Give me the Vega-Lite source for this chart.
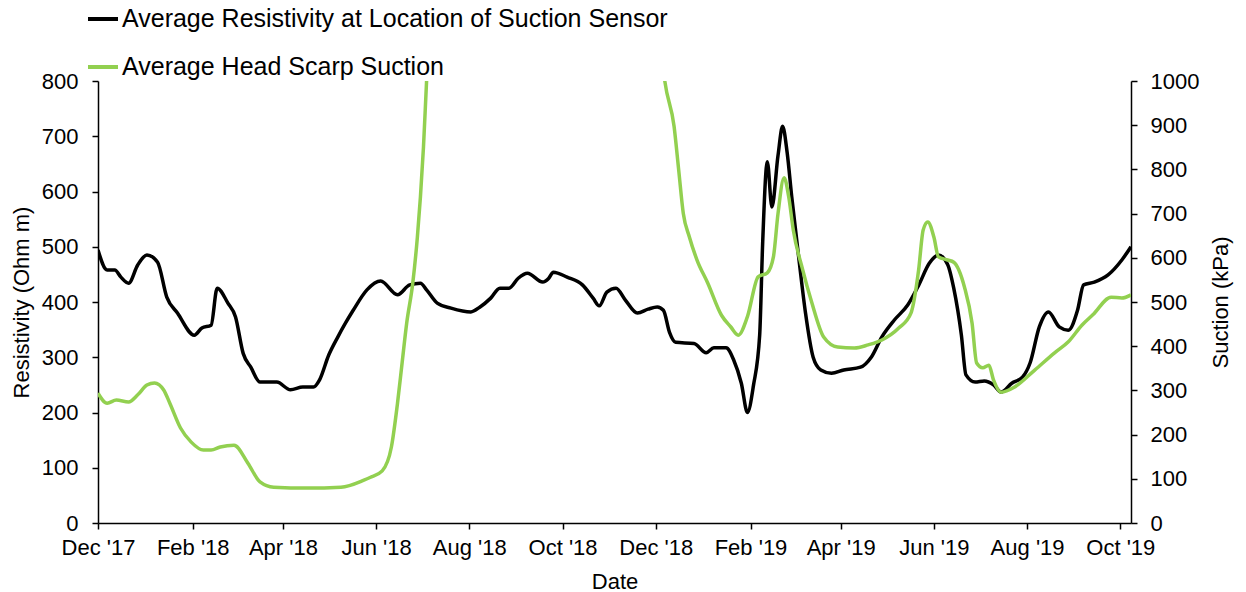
{
  "$schema": "https://vega.github.io/schema/vega-lite/v6.json",
  "width": 1033,
  "height": 442,
  "autosize": {"type": "none"},
  "padding": {"left": 98, "top": 81, "right": 115, "bottom": 69},
  "background": "white",
  "config": {
    "view": {"stroke": null},
    "font": "Liberation Sans",
    "axis": {"labelFont": "Liberation Sans", "titleFont": "Liberation Sans", "labelFontSize": 22, "titleFontSize": 22, "titleFontWeight": "normal", "labelColor": "#000", "titleColor": "#000", "domainColor": "#000", "tickColor": "#000", "domainWidth": 1.5, "tickWidth": 1.5, "tickSize": 6, "grid": false},
    "legend": {"labelFont": "Liberation Sans", "labelFontSize": 25, "labelColor": "#000", "labelLimit": 0}
  },
  "datasets": {
    "res": [
      {"date": "2017-12-01", "v": 494}, {"date": "2017-12-07", "v": 458}, {"date": "2017-12-12", "v": 458}, {"date": "2017-12-16", "v": 445}, {"date": "2017-12-21", "v": 434}, {"date": "2017-12-27", "v": 467},
      {"date": "2018-01-02", "v": 485}, {"date": "2018-01-09", "v": 472}, {"date": "2018-01-15", "v": 409}, {"date": "2018-01-22", "v": 380}, {"date": "2018-02-02", "v": 340}, {"date": "2018-02-07", "v": 353},
      {"date": "2018-02-13", "v": 358}, {"date": "2018-02-17", "v": 425}, {"date": "2018-02-24", "v": 398}, {"date": "2018-03-01", "v": 373}, {"date": "2018-03-06", "v": 307}, {"date": "2018-03-11", "v": 282},
      {"date": "2018-03-17", "v": 255}, {"date": "2018-03-28", "v": 255}, {"date": "2018-04-06", "v": 241}, {"date": "2018-04-14", "v": 246}, {"date": "2018-04-21", "v": 246}, {"date": "2018-04-25", "v": 259},
      {"date": "2018-05-01", "v": 304}, {"date": "2018-05-07", "v": 337}, {"date": "2018-05-12", "v": 362}, {"date": "2018-05-17", "v": 385}, {"date": "2018-05-26", "v": 422}, {"date": "2018-06-04", "v": 438},
      {"date": "2018-06-15", "v": 413}, {"date": "2018-06-23", "v": 431}, {"date": "2018-06-30", "v": 434}, {"date": "2018-07-04", "v": 422}, {"date": "2018-07-11", "v": 398}, {"date": "2018-07-20", "v": 389},
      {"date": "2018-08-02", "v": 382}, {"date": "2018-08-08", "v": 391}, {"date": "2018-08-15", "v": 407}, {"date": "2018-08-21", "v": 425}, {"date": "2018-08-27", "v": 425}, {"date": "2018-09-02", "v": 443},
      {"date": "2018-09-08", "v": 452}, {"date": "2018-09-18", "v": 436}, {"date": "2018-09-22", "v": 443}, {"date": "2018-09-25", "v": 454}, {"date": "2018-10-04", "v": 445}, {"date": "2018-10-14", "v": 431},
      {"date": "2018-10-21", "v": 407}, {"date": "2018-10-25", "v": 393}, {"date": "2018-10-30", "v": 418}, {"date": "2018-11-05", "v": 425}, {"date": "2018-11-11", "v": 404}, {"date": "2018-11-19", "v": 380},
      {"date": "2018-11-26", "v": 387}, {"date": "2018-12-02", "v": 391}, {"date": "2018-12-06", "v": 385}, {"date": "2018-12-10", "v": 345}, {"date": "2018-12-14", "v": 327}, {"date": "2018-12-26", "v": 325},
      {"date": "2019-01-03", "v": 308}, {"date": "2019-01-08", "v": 317}, {"date": "2019-01-16", "v": 317}, {"date": "2019-01-21", "v": 295}, {"date": "2019-01-26", "v": 253}, {"date": "2019-01-30", "v": 200},
      {"date": "2019-02-03", "v": 250}, {"date": "2019-02-07", "v": 340}, {"date": "2019-02-09", "v": 510}, {"date": "2019-02-12", "v": 654}, {"date": "2019-02-15", "v": 572}, {"date": "2019-02-19", "v": 665},
      {"date": "2019-02-22", "v": 718}, {"date": "2019-02-25", "v": 670}, {"date": "2019-02-28", "v": 590}, {"date": "2019-03-05", "v": 470}, {"date": "2019-03-09", "v": 380}, {"date": "2019-03-14", "v": 300},
      {"date": "2019-03-19", "v": 277}, {"date": "2019-03-26", "v": 271}, {"date": "2019-04-03", "v": 277}, {"date": "2019-04-14", "v": 282}, {"date": "2019-04-21", "v": 300}, {"date": "2019-04-28", "v": 337},
      {"date": "2019-05-06", "v": 367}, {"date": "2019-05-15", "v": 395}, {"date": "2019-05-22", "v": 430}, {"date": "2019-05-29", "v": 470}, {"date": "2019-06-04", "v": 485}, {"date": "2019-06-10", "v": 468},
      {"date": "2019-06-14", "v": 425}, {"date": "2019-06-19", "v": 340}, {"date": "2019-06-22", "v": 268}, {"date": "2019-06-28", "v": 255}, {"date": "2019-07-04", "v": 257}, {"date": "2019-07-10", "v": 250},
      {"date": "2019-07-15", "v": 237}, {"date": "2019-07-22", "v": 253}, {"date": "2019-07-29", "v": 264}, {"date": "2019-08-03", "v": 290}, {"date": "2019-08-09", "v": 355}, {"date": "2019-08-15", "v": 382},
      {"date": "2019-08-22", "v": 355}, {"date": "2019-08-28", "v": 349}, {"date": "2019-09-03", "v": 385}, {"date": "2019-09-07", "v": 431}, {"date": "2019-09-14", "v": 436}, {"date": "2019-09-23", "v": 449},
      {"date": "2019-10-02", "v": 476}, {"date": "2019-10-08", "v": 500}
    ],
    "suc": [
      {"date": "2017-12-01", "v": 294}, {"date": "2017-12-07", "v": 271}, {"date": "2017-12-13", "v": 278}, {"date": "2017-12-21", "v": 274}, {"date": "2017-12-27", "v": 290}, {"date": "2018-01-02", "v": 312},
      {"date": "2018-01-07", "v": 317}, {"date": "2018-01-13", "v": 301}, {"date": "2018-01-17", "v": 271}, {"date": "2018-01-24", "v": 215}, {"date": "2018-01-31", "v": 183}, {"date": "2018-02-08", "v": 165},
      {"date": "2018-02-13", "v": 165}, {"date": "2018-02-19", "v": 172}, {"date": "2018-02-28", "v": 176}, {"date": "2018-03-09", "v": 136}, {"date": "2018-03-17", "v": 93}, {"date": "2018-03-26", "v": 81},
      {"date": "2018-04-17", "v": 79}, {"date": "2018-05-09", "v": 81}, {"date": "2018-05-24", "v": 97}, {"date": "2018-05-28", "v": 103}, {"date": "2018-06-05", "v": 118}, {"date": "2018-06-11", "v": 172},
      {"date": "2018-06-15", "v": 271}, {"date": "2018-06-18", "v": 362}, {"date": "2018-06-21", "v": 452}, {"date": "2018-06-25", "v": 543}, {"date": "2018-06-28", "v": 647}, {"date": "2018-06-30", "v": 738},
      {"date": "2018-07-02", "v": 851}, {"date": "2018-07-04", "v": 998}, {"date": "2018-07-08", "v": 1250}, {"date": "2018-07-15", "v": 1500}, {"date": "2018-09-01", "v": 1700}, {"date": "2018-11-15", "v": 1500},
      {"date": "2018-12-01", "v": 1200}, {"date": "2018-12-07", "v": 998}, {"date": "2018-12-13", "v": 897}, {"date": "2018-12-16", "v": 799}, {"date": "2018-12-19", "v": 701}, {"date": "2018-12-23", "v": 647},
      {"date": "2018-12-28", "v": 595}, {"date": "2019-01-04", "v": 543}, {"date": "2019-01-13", "v": 470}, {"date": "2019-01-19", "v": 444}, {"date": "2019-01-24", "v": 425}, {"date": "2019-01-30", "v": 467},
      {"date": "2019-02-06", "v": 557}, {"date": "2019-02-12", "v": 566}, {"date": "2019-02-16", "v": 602}, {"date": "2019-02-19", "v": 700}, {"date": "2019-02-23", "v": 781}, {"date": "2019-02-26", "v": 738},
      {"date": "2019-03-01", "v": 663}, {"date": "2019-03-07", "v": 575}, {"date": "2019-03-13", "v": 500}, {"date": "2019-03-21", "v": 420}, {"date": "2019-03-30", "v": 398}, {"date": "2019-04-10", "v": 396},
      {"date": "2019-04-19", "v": 403}, {"date": "2019-04-28", "v": 414}, {"date": "2019-05-09", "v": 441}, {"date": "2019-05-17", "v": 475}, {"date": "2019-05-22", "v": 572}, {"date": "2019-05-25", "v": 663},
      {"date": "2019-05-28", "v": 681}, {"date": "2019-06-01", "v": 647}, {"date": "2019-06-04", "v": 602}, {"date": "2019-06-10", "v": 595}, {"date": "2019-06-14", "v": 590}, {"date": "2019-06-21", "v": 534},
      {"date": "2019-06-26", "v": 452}, {"date": "2019-06-29", "v": 362}, {"date": "2019-07-03", "v": 351}, {"date": "2019-07-07", "v": 357}, {"date": "2019-07-10", "v": 324}, {"date": "2019-07-15", "v": 296},
      {"date": "2019-07-24", "v": 308}, {"date": "2019-08-06", "v": 346}, {"date": "2019-08-19", "v": 385}, {"date": "2019-08-28", "v": 410}, {"date": "2019-09-06", "v": 448}, {"date": "2019-09-13", "v": 471},
      {"date": "2019-09-25", "v": 511}, {"date": "2019-10-02", "v": 509}, {"date": "2019-10-08", "v": 516}
    ]
  },
  "encoding": {
    "x": {
      "field": "date", "type": "temporal", "title": "Date",
      "scale": {"domain": [{"year": 2017, "month": 12, "date": 1}, {"year": 2019, "month": 10, "date": 8}]},
      "axis": {
        "format": "%b '%y", "labelPadding": 8, "titlePadding": 13, "labelFlush": false, "labelOverlap": false,
        "values": [
          {"year": 2017, "month": 12, "date": 1}, {"year": 2018, "month": 2, "date": 1}, {"year": 2018, "month": 4, "date": 1},
          {"year": 2018, "month": 6, "date": 1}, {"year": 2018, "month": 8, "date": 1}, {"year": 2018, "month": 10, "date": 1},
          {"year": 2018, "month": 12, "date": 1}, {"year": 2019, "month": 2, "date": 1}, {"year": 2019, "month": 4, "date": 1},
          {"year": 2019, "month": 6, "date": 1}, {"year": 2019, "month": 8, "date": 1}, {"year": 2019, "month": 10, "date": 1}
        ]
      }
    },
    "color": {
      "field": "series", "type": "nominal",
      "scale": {"domain": ["Average Resistivity at Location of Suction Sensor", "Average Head Scarp Suction"], "range": ["#000000", "#92D050"]},
      "legend": {"title": null, "orient": "none", "legendX": -12, "legendY": -79, "symbolType": "stroke", "symbolStrokeWidth": 4, "symbolSize": 900, "rowPadding": 18, "labelOffset": 2}
    }
  },
  "layer": [
    {
      "data": {"name": "res"},
      "transform": [{"calculate": "'Average Resistivity at Location of Suction Sensor'", "as": "series"}],
      "mark": {"type": "line", "interpolate": "monotone", "strokeWidth": 3.5, "clip": true},
      "encoding": {
        "y": {"field": "v", "type": "quantitative", "title": "Resistivity (Ohm m)",
          "scale": {"domain": [0, 800], "nice": false},
          "axis": {"values": [0, 100, 200, 300, 400, 500, 600, 700, 800], "labelPadding": 14, "titlePadding": 8}}
      }
    },
    {
      "data": {"name": "suc"},
      "transform": [{"calculate": "'Average Head Scarp Suction'", "as": "series"}],
      "mark": {"type": "line", "interpolate": "monotone", "strokeWidth": 3.5, "clip": true},
      "encoding": {
        "y": {"field": "v", "type": "quantitative", "title": "Suction (kPa)",
          "scale": {"domain": [0, 1000], "nice": false},
          "axis": {"orient": "right", "format": "d", "titleAngle": 270, "values": [0, 100, 200, 300, 400, 500, 600, 700, 800, 900, 1000], "labelPadding": 13, "titlePadding": 34}}
      }
    }
  ],
  "resolve": {"scale": {"y": "independent"}}
}
